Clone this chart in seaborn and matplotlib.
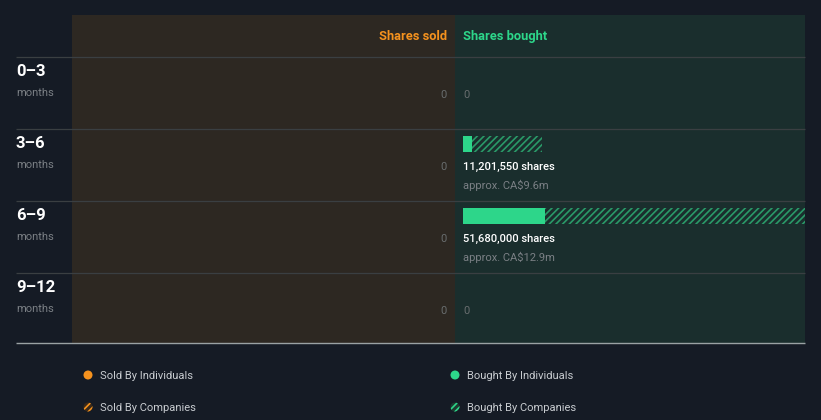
import matplotlib
matplotlib.use('Agg')
import matplotlib.pyplot as plt
import matplotlib.transforms as mtrans
from matplotlib.patches import Circle
import seaborn as sns
import pandas as pd

# ---- data ----
periods = ['0–3', '3–6', '6–9', '9–12']
period_unit = ['months', 'months', 'months', 'months']
sold_individuals = [0, 0, 0, 0]
sold_companies = [0, 0, 0, 0]
bought_individuals = [0, 1_280_000, 11_630_000, 0]
bought_companies = [0, 9_921_550, 40_050_000, 0]
bought_share_labels = ['0', '11,201,550 shares', '51,680,000 shares', '0']
bought_value_labels = ['', 'approx. CA$9.6m', 'approx. CA$12.9m', '']
sold_share_labels = ['0', '0', '0', '0']
header_sold = 'Shares sold'
header_bought = 'Shares bought'
legend_labels = ['Sold By Individuals', 'Sold By Companies',
                 'Bought By Individuals', 'Bought By Companies']

# ---- style ----
sns.set_theme(style='dark')
plt.rcParams['font.family'] = ['Roboto', 'DejaVu Sans']
plt.rcParams['hatch.linewidth'] = 1.2

BG = '#151b25'
SOLD_BG = '#2d2822'
BUY_BG = '#1a2e2d'
ORANGE = '#f5921e'
GREEN = '#2dd68a'
HATCH_GREEN = '#2a9a68'
GRID = '#3a3f42'
MUTED = '#7b8085'
ZERO = '#686d6e'
WHITE = '#ffffff'
LEG = '#c8ccd0'

W, H = 821, 420
fig = plt.figure(figsize=(W / 100, H / 100), dpi=100, facecolor=BG)


def ax_at(l, t, r, b, **kw):
    return fig.add_axes([l / W, 1 - b / H, (r - l) / W, (b - t) / H], **kw)


# vertical layout in "row units": bar centre of row i sits at i
ROW_PX = 72.0
Y0_PX = 72.0
TOP_PX, BOT_PX = 15, 343
ylim = ((BOT_PX - Y0_PX) / ROW_PX, (TOP_PX - Y0_PX) / ROW_PX)
TXT_DY = 1.2  # small downward nudge for text (px)

df = pd.DataFrame({
    'period': periods,
    'sold_total': [a + b for a, b in zip(sold_individuals, sold_companies)],
    'sold_ind': sold_individuals,
    'buy_total': [a + b for a, b in zip(bought_individuals, bought_companies)],
    'buy_ind': bought_individuals,
})

# ---- bought panel ----
ax_buy = ax_at(455, TOP_PX, 805, BOT_PX)
ax_buy.set_facecolor(BUY_BG)
px_per_share = 79 / 11_201_550
sns.barplot(data=df, y='period', x='buy_total', orient='h', ax=ax_buy,
            color=BUY_BG, saturation=1, width=16 / ROW_PX, errorbar=None,
            edgecolor=HATCH_GREEN, hatch='/////', linewidth=0)
sns.barplot(data=df, y='period', x='buy_ind', orient='h', ax=ax_buy,
            color=GREEN, saturation=1, width=16 / ROW_PX, errorbar=None,
            linewidth=0)
ax_buy.set_xlim(-8 / px_per_share, 342 / px_per_share)
ax_buy.set_ylim(*ylim)

for i in range(len(periods)):
    if df['buy_total'][i] == 0:
        ax_buy.text(0, i + (22 + TXT_DY) / ROW_PX, bought_share_labels[i],
                    color=ZERO, fontsize=8, ha='left', va='center')
    else:
        ax_buy.text(0, i + (22 + TXT_DY) / ROW_PX, bought_share_labels[i],
                    color=WHITE, fontsize=8, ha='left', va='center',
                    fontweight='medium')
        ax_buy.text(0, i + (40 + TXT_DY) / ROW_PX, bought_value_labels[i],
                    color=MUTED, fontsize=8, ha='left', va='center')

# ---- sold panel ----
ax_sold = ax_at(72, TOP_PX, 455, BOT_PX)
ax_sold.set_facecolor(SOLD_BG)
sns.barplot(data=df, y='period', x='sold_total', orient='h', ax=ax_sold,
            color=SOLD_BG, saturation=1, width=16 / ROW_PX, errorbar=None,
            edgecolor=ORANGE, hatch='/////', linewidth=0)
sns.barplot(data=df, y='period', x='sold_ind', orient='h', ax=ax_sold,
            color=ORANGE, saturation=1, width=16 / ROW_PX, errorbar=None,
            linewidth=0)
ax_sold.set_xlim(375 / px_per_share, -8 / px_per_share)
ax_sold.set_ylim(*ylim)
tr = mtrans.blended_transform_factory(ax_sold.transAxes, ax_sold.transData)
for i in range(len(periods)):
    ax_sold.text(1 - 8 / 383, i + (22 + TXT_DY) / ROW_PX, sold_share_labels[i],
                 color=ZERO, fontsize=8, ha='right', va='center', transform=tr)

for ax in (ax_buy, ax_sold):
    ax.set_xlabel('')
    ax.set_ylabel('')
    ax.set_xticks([])
    ax.set_yticks([])
    ax.grid(False)
    for s in ax.spines.values():
        s.set_visible(False)

# ---- overlay (pixel coordinates) ----
ov = fig.add_axes([0, 0, 1, 1], zorder=10)
ov.set_xlim(0, W)
ov.set_ylim(H, 0)
ov.axis('off')
ov.patch.set_alpha(0)

for k in range(len(periods)):
    y = 57 + ROW_PX * k
    ov.plot([16, 805], [y, y], color=GRID, lw=0.9, solid_capstyle='butt')
ov.plot([16, 805], [343, 343], color='#9aa2a4', lw=1.0, solid_capstyle='butt')

ov.text(447, 35 + TXT_DY, header_sold, color=ORANGE, fontsize=9.3,
        fontweight='bold', ha='right', va='center')
ov.text(463, 35 + TXT_DY, header_bought, color=GREEN, fontsize=9.3,
        fontweight='bold', ha='left', va='center')

for i, (p, u) in enumerate(zip(periods, period_unit)):
    ov.text(16, 70 + TXT_DY + 0.8 + ROW_PX * i, p, color=WHITE, fontsize=12,
            fontweight='bold', ha='left', va='center')
    ov.text(16, 92 + TXT_DY + ROW_PX * i, u, color=MUTED, fontsize=8,
            ha='left', va='center')

# legend
leg_pos = [(88, 375), (88, 407), (455, 375), (455, 407)]
leg_col = [ORANGE, ORANGE, GREEN, GREEN]
leg_hatch = [False, True, False, True]
for (x, y), c, h, lab in zip(leg_pos, leg_col, leg_hatch, legend_labels):
    if h:
        ov.add_patch(Circle((x, y), 4.5,
                            facecolor='#3a2a1a' if c == ORANGE else '#1d3a30',
                            edgecolor=c, hatch='/////', linewidth=0))
    else:
        ov.add_patch(Circle((x, y), 4.5, facecolor=c, linewidth=0))
    ov.text(x + 12, y + TXT_DY, lab, color=LEG, fontsize=8, ha='left',
            va='center')

fig.savefig('out.png', dpi=100, facecolor=BG)
